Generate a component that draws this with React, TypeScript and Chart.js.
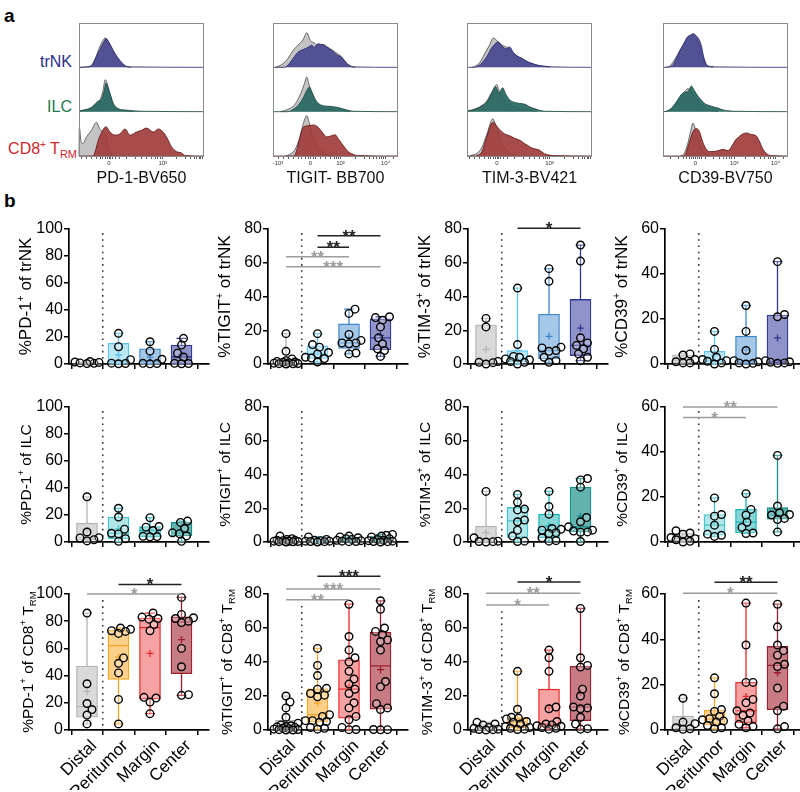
import React, { useEffect, useRef } from 'react';
import { Chart, registerables } from 'chart.js';

Chart.register(...registerables);

const FONT = "'Liberation Sans', Arial, Helvetica, sans-serif";
Chart.defaults.font.family = FONT;
Chart.defaults.color = '#000';

// ---------------- Panel a : flow histograms ([position, relative height]) ----------------
const PD1_TRNK_CTRL = [[0,0],[6,0.01],[10,0.05],[13,0.2],[16,0.42],[19,0.6],[21,0.66],[24,0.55],[27,0.38],[30,0.22],[34,0.08],[38,0.02],[42,0]];
const PD1_TRNK_STAIN = [[0,0],[7,0.01],[11,0.06],[14,0.25],[17,0.42],[20,0.58],[21.6,0.65],[24,0.56],[27.5,0.38],[30,0.26],[33,0.15],[36,0.06],[38,0.02],[42,0.01],[100,0]];
const PD1_ILC_CTRL = [[0,0.01],[4,0.03],[8,0.06],[12,0.12],[16,0.22],[19,0.45],[21,0.72],[23,0.6],[25,0.35],[28,0.12],[32,0.04],[36,0.02],[40,0.01],[44,0]];
const PD1_ILC_STAIN = [[0,0.01],[4,0.04],[9,0.08],[13,0.18],[15.5,0.24],[18,0.28],[20,0.45],[21.6,0.64],[23,0.55],[25,0.4],[27,0.22],[29,0.12],[32,0.06],[36,0.04],[43,0.02],[50,0.01],[100,0]];
const PD1_TRM_CTRL = [[0,0],[0.3,0.65],[1.5,0.35],[3,0.28],[6,0.43],[10,0.58],[14,0.76],[16.5,0.62],[19,0.55],[21,0.5],[23.5,0.2],[26,0.05],[28,0]];
const PD1_TRM_STAIN = [[0,0],[10,0],[12,0.03],[15.5,0.36],[19,0.58],[21.6,0.66],[24.8,0.54],[28.8,0.47],[32.8,0.5],[36.8,0.61],[40.8,0.47],[46,0.54],[50,0.58],[54,0.63],[59.5,0.54],[63.5,0.61],[67,0.55],[70,0.43],[74,0.21],[78,0.1],[82,0.07],[85,0.01],[100,0]];

const TIGIT_TRNK_CTRL = [[2,0],[4,0.02],[8,0.08],[12,0.2],[16,0.38],[20,0.5],[24,0.62],[27,0.78],[30,0.6],[33,0.55],[36,0.5],[40,0.52],[44,0.45],[48,0.38],[52,0.3],[55,0.24],[58,0.12],[61,0.05],[64,0.01],[66,0]];
const TIGIT_TRNK_STAIN = [[0,0],[9,0],[12,0.05],[16,0.2],[20,0.34],[24,0.4],[28,0.45],[31,0.5],[33,0.45],[36,0.53],[40,0.5],[44,0.44],[47,0.38],[51,0.28],[54,0.24],[57,0.15],[60,0.06],[64,0.01],[100,0]];
const TIGIT_ILC_CTRL = [[6,0],[10,0.03],[14,0.08],[18,0.18],[22,0.4],[25,0.62],[27,0.78],[29,0.6],[32,0.35],[35,0.15],[38,0.09],[42,0.06],[46,0.05],[50,0.04],[54,0.03],[58,0.01],[62,0]];
const TIGIT_ILC_STAIN = [[0,0],[12,0],[16,0.05],[20,0.14],[24,0.3],[27,0.48],[29,0.55],[31,0.45],[34,0.27],[37.6,0.16],[41,0.13],[45.6,0.12],[48,0.11],[51,0.1],[55,0.07],[59,0.04],[64,0.01],[100,0]];
const TIGIT_TRM_CTRL = [[10,0],[13,0.03],[17,0.12],[20,0.3],[23,0.6],[25,0.8],[27,0.91],[29,0.75],[31,0.52],[34,0.3],[37,0.15],[40,0.08],[44,0.03],[48,0]];
const TIGIT_TRM_STAIN = [[0,0],[16,0],[18,0.05],[21,0.35],[24.3,0.65],[28,0.68],[32.3,0.7],[36,0.65],[39,0.55],[43,0.43],[46,0.45],[49.6,0.48],[52,0.4],[55,0.28],[58,0.17],[60,0.1],[64,0.04],[67,0.01],[100,0]];

const TIM3_TRNK_CTRL = [[4,0],[6,0.02],[10,0.1],[14,0.3],[18,0.5],[21,0.66],[24,0.6],[28,0.5],[32,0.45],[36,0.35],[40,0.25],[44,0.2],[50,0.1],[56,0.05],[62,0.02],[66,0]];
const TIM3_TRNK_STAIN = [[0,0],[6,0],[8,0.02],[12,0.1],[16,0.25],[20,0.45],[25,0.57],[28,0.48],[31,0.42],[34,0.46],[37,0.34],[40,0.26],[44,0.2],[48,0.13],[52,0.09],[56,0.05],[60,0.03],[64,0.02],[68,0.01],[100,0]];
const TIM3_ILC_CTRL = [[0,0.02],[4,0.04],[8,0.08],[12,0.14],[16,0.25],[20,0.45],[23.7,0.61],[26,0.45],[28,0.35],[32,0.2],[36,0.12],[40,0.08],[44,0.05],[48,0.03],[52,0.02],[56,0]];
const TIM3_ILC_STAIN = [[0,0.01],[4,0.03],[8,0.07],[12,0.13],[16,0.22],[20,0.42],[23,0.56],[25.5,0.42],[28.5,0.54],[31,0.4],[34,0.27],[37,0.22],[41,0.19],[44,0.18],[47,0.16],[50,0.11],[54,0.07],[58,0.03],[62,0.01],[100,0]];
const TIM3_TRM_CTRL = [[2,0],[4,0.02],[8,0.06],[12,0.2],[16,0.5],[20.6,0.84],[23,0.7],[26,0.45],[29,0.25],[32,0.12],[36,0.04],[40,0]];
const TIM3_TRM_STAIN = [[0,0],[7,0],[9,0.02],[12,0.1],[16,0.45],[19,0.7],[21,0.76],[23,0.7],[26,0.6],[30,0.5],[34.7,0.45],[38,0.4],[42.7,0.35],[46,0.28],[48,0.25],[52,0.18],[56,0.15],[58,0.13],[62,0.05],[66,0.02],[68,0.01],[100,0]];

const CD39_TRNK_CTRL = [[2,0],[5,0.02],[8,0.12],[12,0.3],[16,0.5],[20,0.68],[23,0.74],[26,0.65],[29,0.5],[32,0.25],[35,0.06],[38,0.01],[40,0]];
const CD39_TRNK_STAIN = [[0,0],[5,0.01],[8,0.06],[10.7,0.2],[13,0.35],[16,0.5],[20,0.7],[22,0.72],[24,0.76],[27,0.7],[29.3,0.6],[31,0.45],[32,0.3],[34.7,0.05],[38,0.02],[42,0.01],[100,0]];
const CD39_ILC_CTRL = [[2,0],[4,0.02],[8,0.1],[12,0.25],[16,0.4],[20,0.52],[23,0.42],[26,0.32],[29,0.22],[32,0.12],[36,0.05],[40,0.02],[44,0]];
const CD39_ILC_STAIN = [[0,0],[3,0.01],[6,0.06],[9,0.15],[12,0.28],[15,0.4],[18,0.44],[20,0.45],[22.7,0.58],[25,0.48],[28,0.35],[31,0.25],[34,0.17],[37,0.14],[40,0.11],[44,0.08],[48,0.04],[52,0.02],[56,0.01],[100,0]];
const CD39_TRM_CTRL = [[14,0],[17,0.06],[20,0.3],[22,0.55],[24,0.74],[26,0.6],[28,0.4],[30,0.22],[32,0.1],[35,0.03],[38,0]];
const CD39_TRM_STAIN = [[0,0],[16,0],[18,0.04],[21,0.3],[24,0.55],[26.7,0.62],[29,0.56],[32,0.3],[35,0.14],[37,0.1],[40,0.1],[44,0.12],[48,0.15],[52,0.12],[55,0.22],[58,0.36],[61,0.44],[64,0.5],[67,0.52],[70,0.49],[74.7,0.45],[77,0.34],[80,0.15],[83,0.05],[86,0.01],[100,0]];

// axis tick labels of the histograms: [position, label]
const PD1_AXIS = [[24, '0'], [67, '10³']];
const TIGIT_AXIS = [[4, '-10³'], [30, '0'], [54, '10³'], [90, '10⁴']];
const TIM3_AXIS = [[24, '0'], [66, '10³']];
const CD39_AXIS = [[26, '0'], [57, '10³'], [90, '10⁴']];
const PD1_MINOR = [2, 6, 10, 14, 17, 19, 21, 22.5, 25.5, 27, 29, 32, 38, 45, 50, 54, 58, 61, 63, 65, 78, 85, 89, 92, 94, 96, 97.5, 99];
const TIGIT_MINOR = [8, 12, 16, 20, 23, 26, 28, 32, 34, 38, 42, 46, 49, 51, 52.5, 66, 73, 77, 80, 83, 85, 87, 88.5, 96];
const TIM3_MINOR = [2, 6, 10, 14, 17, 19, 21, 22.5, 25.5, 27, 29, 32, 38, 45, 50, 54, 58, 61, 63, 64.5, 78, 85, 89, 92, 94, 96, 97.5, 99];
const CD39_MINOR = [6, 12, 16, 19, 21, 23, 24.5, 27.5, 29, 31, 34, 40, 45, 48, 51, 53, 55, 66, 73, 78, 81, 84, 86, 88, 96];

// ---------------- Panel b : box plots (Distal, Peritumor, Margin, Center) ----------------
const GROUPS = ['Distal', 'Peritumor', 'Margin', 'Center'];

const PD1_TRNK = [
  [0.5, 1.2, 1.8, 1.5, 0.8, 0.3],
  [22.7, 12.8, 3.2, 0.6, 0.2, 0.4],
  [16.5, 9.5, 3.5, 0.5, 0.3, 0.1],
  [19, 14, 8, 5.2, 0.5, 0.3, 0.2],
];
const TIGIT_TRNK = [
  [18, 7.5, 3, 2, 1.5, 1.2, 1, 0.8, 0.5, 0.3, 0.2, 0.1, 0],
  [18, 11.5, 10, 6.8, 6, 4, 3.5, 3.2, 1.2],
  [32.5, 30, 17.5, 14, 12.5, 12.5, 12, 6.5, 6],
  [28, 27.5, 26, 22, 15.5, 12, 9, 8, 4.5],
];
const TIM3_TRNK = [
  [27, 22, 1.5, 1, 0.8, 0],
  [45, 11.5, 4.5, 4, 3, 2.5, 1.5, 1, 0],
  [56.5, 49, 10, 9.5, 8, 7.5, 4, 2, 1],
  [70.5, 61, 15.5, 12.5, 11, 9, 6, 4, 2],
];
const CD39_TRNK = [
  [4.5, 4, 2, 1, 0.5, 0.5],
  [14.5, 6.5, 3, 2, 1.5, 1.2, 0.5, 0],
  [26, 14.5, 6, 1.5, 1, 0.5, 0.3, 0],
  [45.5, 22, 21, 1.5, 1, 0.8, 0.5, 0.3],
];
const PD1_ILC = [
  [33.5, 7.4, 3.2, 3, 1.7, 0.8],
  [25, 18.5, 9.5, 6.5, 6, 2.5, 0.5],
  [18, 11.5, 11, 8.5, 4.2, 4, 3.8],
  [15.5, 14.5, 10, 6.8, 6.2, 4.5, 0.5],
];
const TIGIT_ILC = [
  [3.5, 2, 1.5, 1, 1, 0.8, 0.5, 0.5, 0.3, 0.2, 0.1, 0],
  [3, 1.5, 1, 0.8, 0.5, 0.5, 0.3, 0.2, 0],
  [3.5, 3, 2.5, 2, 1.5, 1, 0.8, 0.5, 0.3, 0.2],
  [4.5, 4, 3.5, 3, 2, 1.5, 1, 0.8, 0.5, 0.3, 0.2, 0],
];
const TIM3_ILC = [
  [30, 2.5, 0.5, 0.3, 0.2, 0],
  [28.2, 23.5, 19.5, 19, 13, 12, 7, 3.5, 0.5, 0.3],
  [30, 21, 16.5, 8, 7.5, 7, 5.5, 5, 2.5, 0.8, 0.5],
  [37.6, 36.8, 32.5, 14.5, 12, 9, 7, 6.5, 6, 5.8, 0.3],
];
const CD39_ILC = [
  [5, 4, 3.5, 2, 1.5, 1, 0.3, 0],
  [19.6, 12.2, 11.5, 7.5, 3.5, 3, 2.5],
  [21.5, 14.5, 12, 8.8, 6.5, 4, 3.8],
  [38.5, 16, 13, 12.2, 12, 10.5, 10, 4.5],
];
const PD1_TRM = [
  [86, 34, 19.5, 15, 11, 4.5],
  [75, 74, 73, 72.5, 71, 53, 49, 42, 22.5, 4.5],
  [86, 83, 82, 81.5, 77.5, 73, 24, 23.5, 20.5, 12],
  [97.5, 85, 82.5, 82, 80, 79, 60, 46.5, 26, 25.5],
];
const TIGIT_TRM = [
  [20, 16.5, 13, 7.5, 4, 3, 2.5, 2, 1.8, 1.5, 1, 0.8, 0.5, 0.3, 0.2, 0, 0],
  [48, 38, 32, 24.5, 24, 21.5, 20.5, 19.5, 9, 8, 5.5, 5.5, 5, 4.5, 1.5, 1, 0.5],
  [74, 55, 47, 42.5, 40, 34.5, 30, 27, 24, 21.5, 16, 13, 8, 6, 1.5, 0.3, 0.2],
  [76, 71, 60, 58, 56, 53, 52, 47, 28.5, 25.5, 15.5, 13, 12, 0.3, 0.2, 0.1],
];
const TIM3_TRM = [
  [4.5, 3.5, 3, 1.5, 1, 0.5, 0.3, 0.2, 0],
  [34.5, 12.2, 7.5, 7, 6.5, 5, 4.5, 3.5, 2, 1.5, 1, 0.5, 0.3],
  [47, 42.5, 34.5, 13.5, 12.5, 5, 3.5, 3, 2.5, 2.2, 1.5, 1, 0.5],
  [71.5, 42.5, 38, 37, 24, 20, 13.5, 13, 12.5, 7.5, 3.5, 0.8, 0.5],
];
const CD39_TRM = [
  [14, 3.5, 2.8, 1, 0.5, 0.3],
  [23, 16, 9, 8.2, 6, 5, 4.5, 4, 3.5, 2, 1, 0.5],
  [56, 37.5, 21, 21, 13.5, 12, 8.5, 7.5, 6.5, 4, 2.5, 1.5, 1],
  [55.5, 45.5, 37.5, 35, 33, 29, 28, 18.5, 10.5, 8.5, 1.5, 0.5],
];

// significance bars: [from group, to group, value, stars, black/gray]
const TIGIT_TRNK_SIG = [[1, 3, 76, '**', 'k'], [1, 2, 69.2, '**', 'k'], [0, 2, 63.6, '**', 'g'], [0, 3, 57.7, '***', 'g']];
const TIM3_TRNK_SIG = [[1, 3, 80.4, '*', 'k']];
const CD39_ILC_SIG = [[0, 3, 60, '**', 'g'], [0, 2, 55.3, '*', 'g']];
const PD1_TRM_SIG = [[1, 3, 107, '*', 'k'], [0, 3, 100, '*', 'g']];
const TIGIT_TRM_SIG = [[1, 3, 90.4, '***', 'k'], [0, 3, 83, '***', 'g'], [0, 2, 76.6, '**', 'g']];
const TIM3_TRM_SIG = [[1, 3, 87, '*', 'k'], [0, 3, 80.4, '**', 'g'], [0, 2, 73.5, '*', 'g']];
const CD39_TRM_SIG = [[1, 3, 65.2, '**', 'k'], [0, 3, 60.3, '*', 'g']];

// colours
const TRNK_FILL = ['#d9d9d9', '#bae6f6', '#a5c8e9', '#9093c9'];
const TRNK_LINE = ['#b3b3b3', '#5cc4ee', '#3f86c9', '#313893'];
const ILC_FILL = ['#d9d9d9', '#b0e6e8', '#86d6d8', '#62b2ae'];
const ILC_LINE = ['#b3b3b3', '#3cc5cb', '#16b4b9', '#168f89'];
const TRM_FILL = ['#d9d9d9', '#fcd08b', '#f7a2a2', '#c77c84'];
const TRM_LINE = ['#b3b3b3', '#f6a521', '#e8282c', '#9c1f2e'];
const STAIN_FILL = ['rgba(72,72,144,0.93)', 'rgba(40,104,97,0.93)', 'rgba(160,60,60,0.92)'];
const STAIN_LINE = ['#25256c', '#16433e', '#5c1414'];

// ---------------- layout ----------------
const ROW_TOP = [229, 407, 594];
const ROW_H = [135, 135, 136];
const COL_X = [69, 268, 468, 665];
const PLOT_W = 140;
const SPACING = 31.5;
const X_MIN = -18 / SPACING;
const X_MAX = X_MIN + PLOT_W / SPACING;
const HIST_LEFT = [79, 273, 467, 663];

type Seg = [string, string];

function titleSegs(marker: string, pop: string): Seg[] {
  if (pop === 'TRM') return [['%' + marker, 'n'], ['+', 'sup'], [' of CD8', 'n'], ['+', 'sup'], [' T', 'n'], ['RM', 'sub']];
  return [['%' + marker, 'n'], ['+', 'sup'], [' of ' + pop, 'n']];
}

function drawRich(ctx: CanvasRenderingContext2D, segs: Seg[], cx: number, cy: number, size: number) {
  ctx.save();
  ctx.translate(cx, cy);
  ctx.rotate(-Math.PI / 2);
  const small = size * 0.62;
  let total = 0;
  const ws = segs.map(([t, k]) => {
    ctx.font = `${k === 'n' ? size : small}px ${FONT}`;
    const w = ctx.measureText(t).width;
    total += w;
    return w;
  });
  let x = -total / 2;
  ctx.textAlign = 'left';
  ctx.textBaseline = 'alphabetic';
  ctx.fillStyle = '#000';
  const base = size * 0.36;
  segs.forEach(([t, k], i) => {
    ctx.font = `${k === 'n' ? size : small}px ${FONT}`;
    const dy = k === 'sup' ? -size * 0.4 : k === 'sub' ? size * 0.24 : 0;
    ctx.fillText(t, x, base + dy);
    x += ws[i];
  });
  ctx.restore();
}

function quantile(s: number[], p: number) {
  const n = s.length;
  const r = p * (n + 1);
  if (r <= 1) return s[0];
  if (r >= n) return s[n - 1];
  const lo = Math.floor(r);
  return s[lo - 1] + (r - lo) * (s[lo] - s[lo - 1]);
}
function boxStats(vals: number[]) {
  const s = [...vals].sort((a, b) => a - b);
  return {
    min: s[0], q1: quantile(s, 0.25), med: quantile(s, 0.5), q3: quantile(s, 0.75), max: s[s.length - 1],
    mean: s.reduce((a, b) => a + b, 0) / s.length,
  };
}
// compact beeswarm: points may overlap a little, horizontal spread limited to +-12 px
function swarm(vals: number[], pxPerUnit: number) {
  const d = 7;
  const maxOff = 12;
  const order = vals.map((_, i) => i).sort((a, b) => vals[a] - vals[b]);
  const placed: { x: number; y: number }[] = [];
  const offs = new Array(vals.length).fill(0);
  for (const i of order) {
    const y = vals[i] * pxPerUnit;
    let chosen: number | null = null;
    let best = 0, bestScore = -1;
    for (let k = 0; k <= maxOff * 2; k++) {
      const cand = k === 0 ? 0 : (k % 2 ? 1 : -1) * Math.ceil(k / 2);
      let minD = Infinity;
      for (const p of placed) minD = Math.min(minD, Math.hypot(p.x - cand, p.y - y));
      if (minD >= d) { chosen = cand; break; }
      if (minD > bestScore + 0.01) { bestScore = minD; best = cand; }
    }
    const c = chosen === null ? best : chosen;
    placed.push({ x: c, y });
    offs[i] = c / SPACING;
  }
  return offs;
}

const BOX_SPECS = [
  { row: 0, col: 0, pts: PD1_TRNK, ymax: 100, title: titleSegs('PD-1', 'trNK'), sig: [], fill: TRNK_FILL, line: TRNK_LINE },
  { row: 0, col: 1, pts: TIGIT_TRNK, ymax: 80, title: titleSegs('TIGIT', 'trNK'), sig: TIGIT_TRNK_SIG, fill: TRNK_FILL, line: TRNK_LINE },
  { row: 0, col: 2, pts: TIM3_TRNK, ymax: 80, title: titleSegs('TIM-3', 'trNK'), sig: TIM3_TRNK_SIG, fill: TRNK_FILL, line: TRNK_LINE },
  { row: 0, col: 3, pts: CD39_TRNK, ymax: 60, title: titleSegs('CD39', 'trNK'), sig: [], fill: TRNK_FILL, line: TRNK_LINE },
  { row: 1, col: 0, pts: PD1_ILC, ymax: 100, title: titleSegs('PD-1', 'ILC'), sig: [], fill: ILC_FILL, line: ILC_LINE },
  { row: 1, col: 1, pts: TIGIT_ILC, ymax: 80, title: titleSegs('TIGIT', 'ILC'), sig: [], fill: ILC_FILL, line: ILC_LINE },
  { row: 1, col: 2, pts: TIM3_ILC, ymax: 80, title: titleSegs('TIM-3', 'ILC'), sig: [], fill: ILC_FILL, line: ILC_LINE },
  { row: 1, col: 3, pts: CD39_ILC, ymax: 60, title: titleSegs('CD39', 'ILC'), sig: CD39_ILC_SIG, fill: ILC_FILL, line: ILC_LINE },
  { row: 2, col: 0, pts: PD1_TRM, ymax: 100, title: titleSegs('PD-1', 'TRM'), sig: PD1_TRM_SIG, fill: TRM_FILL, line: TRM_LINE },
  { row: 2, col: 1, pts: TIGIT_TRM, ymax: 80, title: titleSegs('TIGIT', 'TRM'), sig: TIGIT_TRM_SIG, fill: TRM_FILL, line: TRM_LINE },
  { row: 2, col: 2, pts: TIM3_TRM, ymax: 80, title: titleSegs('TIM-3', 'TRM'), sig: TIM3_TRM_SIG, fill: TRM_FILL, line: TRM_LINE },
  { row: 2, col: 3, pts: CD39_TRM, ymax: 60, title: titleSegs('CD39', 'TRM'), sig: CD39_TRM_SIG, fill: TRM_FILL, line: TRM_LINE },
];

const HIST_SPECS = [
  { col: 0, label: 'PD-1-BV650', rows: [[PD1_TRNK_CTRL, PD1_TRNK_STAIN], [PD1_ILC_CTRL, PD1_ILC_STAIN], [PD1_TRM_CTRL, PD1_TRM_STAIN]], major: PD1_AXIS, minor: PD1_MINOR },
  { col: 1, label: 'TIGIT- BB700', rows: [[TIGIT_TRNK_CTRL, TIGIT_TRNK_STAIN], [TIGIT_ILC_CTRL, TIGIT_ILC_STAIN], [TIGIT_TRM_CTRL, TIGIT_TRM_STAIN]], major: TIGIT_AXIS, minor: TIGIT_MINOR },
  { col: 2, label: 'TIM-3-BV421', rows: [[TIM3_TRNK_CTRL, TIM3_TRNK_STAIN], [TIM3_ILC_CTRL, TIM3_ILC_STAIN], [TIM3_TRM_CTRL, TIM3_TRM_STAIN]], major: TIM3_AXIS, minor: TIM3_MINOR },
  { col: 3, label: 'CD39-BV750', rows: [[CD39_TRNK_CTRL, CD39_TRNK_STAIN], [CD39_ILC_CTRL, CD39_ILC_STAIN], [CD39_TRM_CTRL, CD39_TRM_STAIN]], major: CD39_AXIS, minor: CD39_MINOR },
];

function HistChart({ spec }: { spec: any }) {
  const ref = useRef<HTMLCanvasElement>(null);
  const padTop = 8, padSide = 10, axisH = 32, frameH = 133, frameW = 125;
  const width = frameW + padSide * 2;
  const height = padTop + frameH + axisH;
  useEffect(() => {
    const labels = new Map<number, string>(spec.major.map((m: any) => [m[0], m[1]]));
    const tickVals = [...spec.minor, ...spec.major.map((m: any) => m[0])].sort((a, b) => a - b);
    const datasets: any[] = [];
    spec.rows.forEach((pair: any, r: number) => {
      const base = 2 - r;
      const [ctrl, stain] = pair;
      datasets.push({
        data: ctrl.map(([u, h]: number[]) => ({ x: u, y: base + h })), fill: { value: base },
        backgroundColor: '#c4c4c4', borderColor: '#4a4a4a', borderWidth: 0.8, pointRadius: 0,
        cubicInterpolationMode: 'monotone', order: 2, clip: false,
      });
      datasets.push({
        data: stain.map(([u, h]: number[]) => ({ x: u, y: base + h })), fill: { value: base },
        backgroundColor: STAIN_FILL[r], borderColor: STAIN_LINE[r], borderWidth: 0.8, pointRadius: 0,
        cubicInterpolationMode: 'monotone', order: 1, clip: false,
      });
    });
    const frame = {
      id: 'frame',
      afterDatasetsDraw(chart: any) {
        const { ctx, chartArea: a } = chart;
        ctx.save();
        ctx.strokeStyle = '#8a8a8a';
        ctx.lineWidth = 1;
        ctx.strokeRect(Math.round(a.left) + 0.5, Math.round(a.top) + 0.5, Math.round(a.width) - 1, Math.round(a.height));
        ctx.restore();
      },
    };
    const chart = new Chart(ref.current as HTMLCanvasElement, {
      type: 'line',
      data: { datasets },
      options: {
        responsive: false, animation: false, events: [],
        layout: { padding: { left: padSide, right: padSide, top: padTop, bottom: 0 } },
        plugins: { legend: { display: false }, tooltip: { enabled: false } },
        scales: {
          x: {
            type: 'linear', min: 0, max: 100,
            afterBuildTicks: (s: any) => { s.ticks = tickVals.map(v => ({ value: v })); },
            afterFit: (s: any) => { s.height = axisH; },
            ticks: { autoSkip: false, maxRotation: 0, padding: 1, font: { size: 6 }, color: '#333', callback: (v: any) => labels.get(v) ?? '' },
            grid: { drawOnChartArea: false, tickLength: 3, color: '#333', lineWidth: 0.8 },
            border: { display: false },
            title: { display: true, text: spec.label, font: { size: 16 }, color: '#111', padding: 0 },
          },
          y: { display: false, min: 0, max: 3 },
        },
      } as any,
      plugins: [frame],
    });
    return () => chart.destroy();
  }, []);
  return (
    <canvas ref={ref} width={width} height={height}
      style={{ position: 'absolute', left: HIST_LEFT[spec.col] - padSide, top: 23 - padTop, width, height }} />
  );
}

function BoxChart({ spec }: { spec: any }) {
  const ref = useRef<HTMLCanvasElement>(null);
  const { row, col } = spec;
  const plotTop = ROW_TOP[row];
  const plotH = ROW_H[row];
  const axisX = COL_X[col];
  const isBottom = row === 2;
  const padTop = 45, yAxisW = 62, padRight = 6;
  const xAxisH = isBottom ? 60 : 12;
  const width = yAxisW + PLOT_W + padRight;
  const height = padTop + plotH + xAxisH;
  useEffect(() => {
    const { pts, ymax, fill, line, sig, title } = spec;
    const pxPerUnit = plotH / ymax;
    const stats = pts.map(boxStats);
    const scatter: any[] = [];
    pts.forEach((g: number[], i: number) => {
      const offs = swarm(g, pxPerUnit);
      g.forEach((v, j) => scatter.push({ x: i + offs[j], y: v }));
    });
    let dotTop = ymax * 0.97;
    if (isBottom && sig.length) dotTop = Math.min(ymax, ...sig.map((s: any) => s[2])) - ymax * 0.045;
    const titleSize = row === 0 ? 17 : 15.5;

    const extras = {
      id: 'boxExtras',
      beforeDatasetsDraw(chart: any) {
        const { ctx, scales: { x, y } } = chart;
        ctx.save();
        ctx.strokeStyle = '#333';
        ctx.lineWidth = 1.6;
        ctx.setLineDash([1.6, 4.6]);
        const xd = x.getPixelForValue(0.5);
        ctx.beginPath();
        ctx.moveTo(xd, y.getPixelForValue(dotTop));
        ctx.lineTo(xd, y.getPixelForValue(0));
        ctx.stroke();
        ctx.restore();
      },
      afterDatasetDraw(chart: any, args: any) {
        if (args.index !== 0) return;
        const { ctx, scales: { x, y } } = chart;
        ctx.save();
        ctx.lineWidth = 1.3;
        stats.forEach((s: any, i: number) => {
          const cx = x.getPixelForValue(i);
          ctx.strokeStyle = line[i];
          ctx.beginPath();
          ctx.moveTo(cx, y.getPixelForValue(s.q3)); ctx.lineTo(cx, y.getPixelForValue(s.max));
          ctx.moveTo(cx, y.getPixelForValue(s.q1)); ctx.lineTo(cx, y.getPixelForValue(s.min));
          ctx.moveTo(cx - 5, y.getPixelForValue(s.max)); ctx.lineTo(cx + 5, y.getPixelForValue(s.max));
          ctx.moveTo(cx - 5, y.getPixelForValue(s.min)); ctx.lineTo(cx + 5, y.getPixelForValue(s.min));
          ctx.moveTo(cx - 10.5, y.getPixelForValue(s.med)); ctx.lineTo(cx + 10.5, y.getPixelForValue(s.med));
          const my = y.getPixelForValue(s.mean);
          ctx.moveTo(cx - 3.5, my); ctx.lineTo(cx + 3.5, my);
          ctx.moveTo(cx, my - 3.5); ctx.lineTo(cx, my + 3.5);
          ctx.stroke();
        });
        ctx.restore();
      },
      afterDraw(chart: any) {
        const { ctx, scales: { x, y }, chartArea: a } = chart;
        ctx.save();
        sig.forEach(([g0, g1, v, stars, c]: any) => {
          const col = c === 'k' ? '#222' : '#9c9c9c';
          const x0 = x.getPixelForValue(g0), x1 = x.getPixelForValue(g1), yy = y.getPixelForValue(v);
          ctx.strokeStyle = col;
          ctx.lineWidth = 1.5;
          ctx.beginPath(); ctx.moveTo(x0, yy); ctx.lineTo(x1, yy); ctx.stroke();
          ctx.fillStyle = col;
          ctx.font = `bold 17px ${FONT}`;
          ctx.textAlign = 'center';
          ctx.textBaseline = 'alphabetic';
          ctx.fillText(stars, (x0 + x1) / 2, yy + 6);
        });
        ctx.restore();
        drawRich(ctx, title, a.left - (isBottom ? 42 : 44), (a.top + a.bottom) / 2, titleSize);
      },
    };

    const chart = new Chart(ref.current as HTMLCanvasElement, {
      type: 'scatter',
      data: {
        datasets: [
          {
            type: 'bar', data: stats.map((s: any, i: number) => ({ x: i, y: [s.q1, s.q3] })),
            backgroundColor: fill, borderColor: line, borderWidth: 1.3, borderSkipped: false,
            barThickness: 21, order: 2, clip: false,
          },
          {
            type: 'scatter', data: scatter, pointRadius: 3.8, pointBorderWidth: 1.4,
            pointBackgroundColor: 'rgba(255,255,255,0.25)', pointBorderColor: '#000', order: 1, clip: false,
          },
        ],
      },
      options: {
        responsive: false, animation: false, events: [],
        layout: { padding: { left: 0, right: padRight, top: padTop, bottom: 0 } },
        plugins: { legend: { display: false }, tooltip: { enabled: false } },
        scales: {
          x: {
            type: 'linear', min: X_MIN, max: X_MAX, offset: false,
            afterBuildTicks: (s: any) => { s.ticks = [0, 1, 2, 3].map(v => ({ value: v })); },
            afterFit: (s: any) => { s.height = xAxisH; },
            ticks: {
              autoSkip: false, padding: 1, font: { size: 17 }, color: '#000',
              maxRotation: isBottom ? 45 : 0, minRotation: isBottom ? 45 : 0,
              labelOffset: isBottom ? 7 : 0,
              callback: (v: any) => (isBottom ? GROUPS[v] : ''),
            },
            grid: { drawOnChartArea: false, tickLength: 5, color: '#000', lineWidth: 1.5 },
            border: { color: '#000', width: 1.7 },
          },
          y: {
            min: 0, max: ymax,
            afterFit: (s: any) => { s.width = yAxisW; },
            ticks: { stepSize: 20, font: { size: 16 }, color: '#000', padding: 1 },
            grid: { drawOnChartArea: false, tickLength: 5, color: '#000', lineWidth: 1.5 },
            border: { color: '#000', width: 1.7 },
          },
        },
      } as any,
      plugins: [extras],
    });
    return () => chart.destroy();
  }, []);
  return (
    <canvas ref={ref} width={width} height={height}
      style={{ position: 'absolute', left: axisX - yAxisW, top: plotTop - padTop, width, height }} />
  );
}

const labelStyle: React.CSSProperties = { position: 'absolute', fontSize: 16, lineHeight: 1, whiteSpace: 'nowrap' };

export default function App() {
  return (
    <div style={{ position: 'absolute', left: 0, top: 0, width: 800, height: 792, background: '#fff', fontFamily: FONT, overflow: 'hidden' }}>
      <div style={{ position: 'absolute', left: 4, top: 6, fontSize: 19, fontWeight: 'bold', lineHeight: 1 }}>a</div>
      <div style={{ position: 'absolute', left: 4, top: 191, fontSize: 19, fontWeight: 'bold', lineHeight: 1 }}>b</div>
      <div style={{ ...labelStyle, right: 728, top: 53.5, color: '#2b2e8c' }}>trNK</div>
      <div style={{ ...labelStyle, right: 728, top: 98.5, color: '#1c7a50' }}>ILC</div>
      <div style={{ ...labelStyle, right: 723, top: 139.5, color: '#d0262e' }}>
        CD8<span style={{ fontSize: 10, verticalAlign: 6 }}>+</span> T<span style={{ fontSize: 11, verticalAlign: -4 }}>RM</span>
      </div>
      {HIST_SPECS.map(s => <HistChart key={'h' + s.col} spec={s} />)}
      {BOX_SPECS.map(s => <BoxChart key={'b' + s.row + s.col} spec={s} />)}
    </div>
  );
}
